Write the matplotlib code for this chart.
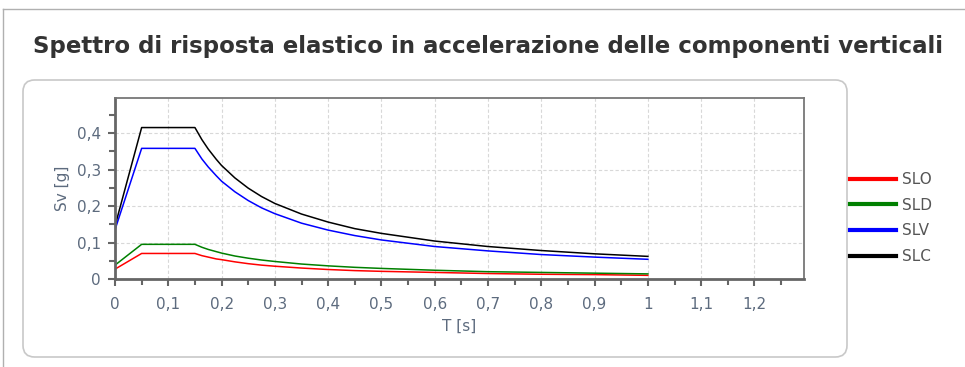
import matplotlib
matplotlib.use("Agg")
import matplotlib.pyplot as plt
from matplotlib.patches import FancyBboxPatch
from matplotlib.lines import Line2D
from matplotlib.ticker import MultipleLocator, FuncFormatter

T = [0, 0.05, 0.15, 0.163, 0.175, 0.19, 0.2, 0.225, 0.25, 0.275, 0.3, 0.35, 0.4, 0.45, 0.5, 0.6, 0.7, 0.8, 0.9, 1.0]
SLO = [0.027, 0.070, 0.070, 0.064, 0.060, 0.055, 0.053, 0.047, 0.042, 0.038, 0.035, 0.030, 0.026, 0.023, 0.021, 0.018, 0.015, 0.013, 0.012, 0.010]
SLD = [0.038, 0.095, 0.095, 0.087, 0.081, 0.075, 0.071, 0.063, 0.057, 0.052, 0.048, 0.041, 0.036, 0.032, 0.029, 0.024, 0.020, 0.018, 0.016, 0.014]
SLV = [0.135, 0.358, 0.358, 0.329, 0.307, 0.283, 0.268, 0.239, 0.215, 0.195, 0.179, 0.153, 0.134, 0.119, 0.107, 0.089, 0.077, 0.067, 0.060, 0.054]
SLC = [0.145, 0.415, 0.415, 0.382, 0.356, 0.328, 0.311, 0.277, 0.249, 0.226, 0.207, 0.178, 0.156, 0.138, 0.125, 0.104, 0.089, 0.078, 0.069, 0.062]

series_names = ["SLO", "SLD", "SLV", "SLC"]
series_vals = [SLO, SLD, SLV, SLC]
colors = ["#ff0000", "#008000", "#0000ff", "#000000"]

title = "Spettro di risposta elastico in accelerazione delle componenti verticali"

W, H = 965, 367
fig = plt.figure(figsize=(W / 100, H / 100), dpi=100)
fig.patch.set_facecolor("white")

# outer panel borders
fig.add_artist(Line2D([3 / W, 1], [1 - 9 / H, 1 - 9 / H], transform=fig.transFigure, color="#b0b0b0", lw=1))
fig.add_artist(Line2D([3 / W, 3 / W], [0, 1 - 9 / H], transform=fig.transFigure, color="#b0b0b0", lw=1))

# rounded chart box
box = FancyBboxPatch((23 / W, 1 - 357 / H), (847 - 23) / W, (357 - 80) / H,
                     boxstyle="round,pad=0,rounding_size=0.012",
                     transform=fig.transFigure, facecolor="white", edgecolor="#c8c8c8", lw=1.2,
                     mutation_aspect=W / H)
fig.add_artist(box)

fig.text(33 / W, 1 - 46 / H, title, fontsize=16.5, fontweight="bold", color="#333333",
         ha="left", va="center", family="DejaVu Sans")

ax = fig.add_axes([115 / W, 1 - 279 / H, (804 - 115) / W, (279 - 98) / H])
ax.set_zorder(2)
for name, vals, c in zip(series_names, series_vals, colors):
    ax.plot(T, vals, color=c, lw=1.1, label=name)

ax.set_xlim(0, 1.293)
ax.set_ylim(0, 0.496)
ax.xaxis.set_major_locator(MultipleLocator(0.1))
ax.xaxis.set_minor_locator(MultipleLocator(0.05))
ax.yaxis.set_major_locator(MultipleLocator(0.1))
ax.yaxis.set_minor_locator(MultipleLocator(0.05))

def fmt(v, pos):
    s = ("%.1f" % v)
    if s.endswith(".0"):
        s = s[:-2]
    return s.replace(".", ",")

ax.xaxis.set_major_formatter(FuncFormatter(fmt))
ax.yaxis.set_major_formatter(FuncFormatter(fmt))

tick_color = "#5d6b7e"
ax.tick_params(axis="both", which="major", direction="out", length=5, width=1.5, color="#666666",
               labelsize=11, labelcolor=tick_color)
ax.tick_params(axis="x", which="major", pad=8)
ax.tick_params(axis="y", which="major", pad=5)
ax.tick_params(axis="both", which="minor", direction="out", length=4, width=1.5, color="#666666")
ax.grid(True, which="major", color="#d8d8d8", ls=(0, (3, 2)), lw=0.8)

for s in ["left", "bottom"]:
    ax.spines[s].set_color("#666666")
    ax.spines[s].set_linewidth(2)
for s in ["top", "right"]:
    ax.spines[s].set_color("#777777")
    ax.spines[s].set_linewidth(1.3)

ax.set_xlabel("T [s]", fontsize=11, color=tick_color, labelpad=5)
ax.set_ylabel("Sv [g]", fontsize=11, color=tick_color, labelpad=5)

handles = [Line2D([], [], color=c, lw=3) for c in colors]
leg = fig.legend(handles, series_names, loc="center left", bbox_to_anchor=(836 / W, 1 - 218 / H),
                 frameon=False, fontsize=11, handlelength=3.0, handletextpad=0.4,
                 labelspacing=0.7, labelcolor="#555555")

fig.savefig("out.png", dpi=100)
